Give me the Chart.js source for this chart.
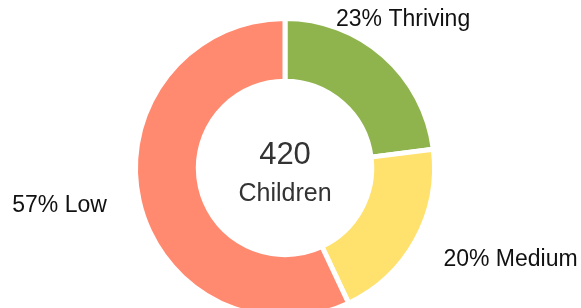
<!DOCTYPE html>
<html>
<head>
<meta charset="utf-8">
<script src="https://cdn.jsdelivr.net/npm/chart.js@4/dist/chart.umd.min.js"></script>
<style>
  html, body { margin: 0; padding: 0; background: #fff; overflow: hidden; }
  #wrap { width: 581px; height: 336px; }
</style>
</head>
<body>
<div id="wrap"><canvas id="donut" width="581" height="336"></canvas></div>
<script>
// ==== data ====
const categories = ["Thriving", "Medium", "Low"];
const percents = [23, 20, 57];
const totalChildren = 420;
const centerLabel = "Children";

// ==== styles ====
const sliceColors = ["#8fb44e", "#ffe16e", "#ff8a70"];
// label nudges (px) from the point just outside each slice middle
const labelNudge = [[6, -21], [77, 10], [-60, 1]];

// draws "23% Thriving" etc. next to the slices, and the total in the hole
const donutText = {
    id: "donutText",
    afterDraw(chart) {
        const ctx = chart.ctx;
        const arcs = chart.getDatasetMeta(0).data;
        ctx.save();
        ctx.textAlign = "center";
        ctx.textBaseline = "middle";

        arcs.forEach((arc, i) => {
            const mid = (arc.startAngle + arc.endAngle) / 2;
            const r = arc.outerRadius + 20;
            const x = arc.x + Math.cos(mid) * r + labelNudge[i][0];
            const y = arc.y + Math.sin(mid) * r + labelNudge[i][1];
            ctx.fillStyle = "#111";
            ctx.font = "23px 'Liberation Sans', Arial, sans-serif";
            ctx.fillText(percents[i] + "% " + categories[i], x, y);
        });

        const c = arcs[0];
        ctx.fillStyle = "#333";
        ctx.textBaseline = "alphabetic";
        ctx.font = "31px 'Liberation Sans', Arial, sans-serif";
        ctx.fillText(String(totalChildren), c.x, c.y - 4);
        ctx.font = "25px 'Liberation Sans', Arial, sans-serif";
        ctx.fillText(centerLabel, c.x, c.y + 33);
        ctx.restore();
    }
};

new Chart(document.getElementById("donut"), {
    type: "doughnut",
    data: {
        labels: categories,
        datasets: [{
            data: percents,
            backgroundColor: sliceColors,
            borderColor: "#ffffff",
            borderWidth: 5,
            hoverOffset: 0
        }]
    },
    options: {
        responsive: false,
        animation: false,
        cutout: "58%",
        layout: { padding: { left: 133, right: 144, top: 16, bottom: 16 } },
        plugins: {
            legend: { display: false },
            tooltip: { enabled: false }
        }
    },
    plugins: [donutText]
});
</script>
</body>
</html>
